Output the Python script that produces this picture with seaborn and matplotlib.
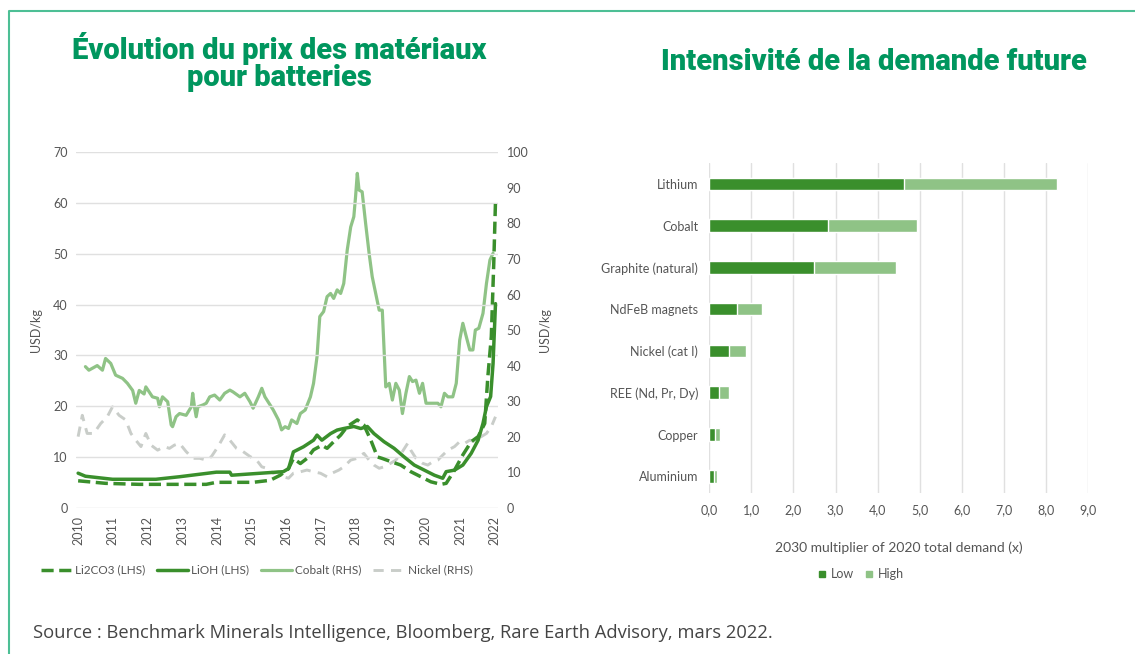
import numpy as np
import pandas as pd
import matplotlib
matplotlib.use("Agg")
import matplotlib.pyplot as plt
from matplotlib.lines import Line2D
import seaborn as sns

# --- left chart: battery material prices ---
li2co3_years = [2010.00, 2010.79, 2011.76, 2013.69, 2013.98, 2015.04, 2015.53, 2015.82, 2016.06,
                2016.20, 2016.40, 2016.59, 2016.78, 2017.02, 2017.17, 2017.36, 2017.56, 2017.75,
                2018.04, 2018.23, 2018.43, 2018.62, 2018.76, 2019.00, 2019.29, 2019.58, 2019.87,
                2020.16, 2020.45, 2020.60, 2020.84, 2021.08, 2021.32, 2021.52, 2021.71, 2021.80,
                2021.90, 2021.97, 2022.02]
li2co3_usd = [5.3, 4.8, 4.6, 4.6, 5, 5, 5.4, 6.4, 7.7, 9.7, 8.7, 9.7, 11.4, 12.3, 11.7, 13, 14.3,
              16, 17.3, 16.3, 13.3, 10, 9.7, 9.1, 8.4, 7.1, 6.1, 5.1, 4.6, 4.8, 7.4, 10.4, 13, 14,
              16.6, 25.8, 33.7, 48.1, 60.3]

lioh_years = [2010.00, 2010.21, 2010.60, 2010.99, 2012.24, 2012.92, 2013.98, 2014.37, 2014.42,
              2015.91, 2016.06, 2016.20, 2016.49, 2016.78, 2016.88, 2017.02, 2017.27, 2017.46,
              2017.65, 2017.94, 2018.14, 2018.33, 2018.52, 2018.81, 2019.10, 2019.39, 2019.68,
              2019.97, 2020.26, 2020.50, 2020.60, 2020.84, 2021.08, 2021.32, 2021.52, 2021.66,
              2021.76, 2021.88, 2021.95, 2022.02]
lioh_usd = [6.8, 6.2, 5.9, 5.6, 5.6, 6.1, 7.0, 7.0, 6.4, 7.1, 7.7, 11, 12, 13.3, 14.3, 13.3, 14.6,
            15.3, 15.6, 16, 15.6, 16, 14.6, 13, 11.7, 10, 8.4, 7.4, 6.4, 5.8, 7.1, 7.4, 8.4, 10.7,
            13.3, 16.6, 19.9, 21.9, 28.4, 40.2]

cobalt_years = [2010.21, 2010.31, 2010.55, 2010.70, 2010.79, 2010.94, 2011.08, 2011.28, 2011.42,
                2011.57, 2011.66, 2011.76, 2011.90, 2011.95, 2012.14, 2012.29, 2012.34, 2012.43,
                2012.58, 2012.68, 2012.72, 2012.82, 2012.92, 2013.11, 2013.26, 2013.30, 2013.35,
                2013.40, 2013.45, 2013.59, 2013.69, 2013.79, 2013.93, 2014.08, 2014.22, 2014.37,
                2014.46, 2014.66, 2014.80, 2014.95, 2015.04, 2015.19, 2015.29, 2015.38, 2015.53,
                2015.62, 2015.77, 2015.86, 2015.96, 2016.06, 2016.15, 2016.30, 2016.40, 2016.54,
                2016.69, 2016.78, 2016.88, 2016.96, 2017.07, 2017.17, 2017.27, 2017.36, 2017.46,
                2017.56, 2017.65, 2017.75, 2017.85, 2017.94, 2017.99, 2018.04, 2018.09, 2018.18,
                2018.28, 2018.38, 2018.47, 2018.57, 2018.67, 2018.76, 2018.86, 2018.96, 2019.05,
                2019.15, 2019.25, 2019.34, 2019.44, 2019.54, 2019.63, 2019.73, 2019.83, 2019.92,
                2020.02, 2020.16, 2020.36, 2020.45, 2020.55, 2020.65, 2020.79, 2020.89, 2020.99,
                2021.08, 2021.18, 2021.28, 2021.37, 2021.44, 2021.54, 2021.66, 2021.76, 2021.86,
                2021.95]
cobalt_usd = [39.7, 38.7, 40, 38.7, 42, 40.6, 37.3, 36.4, 35, 33, 29.4, 33, 32, 34, 31.2, 30.8, 28.4,
              31.2, 29.8, 23.3, 22.8, 25.6, 26.5, 26, 28.4, 32.2, 28.4, 25.6, 28.4, 28.9, 29.4, 31.2,
              31.7, 30.3, 32.2, 33.1, 32.6, 31.2, 32.2, 29.8, 28, 31.2, 33.6, 31.2, 28.9, 27.5, 24.7,
              21.9, 22.8, 22.3, 24.7, 23.7, 26.5, 27.5, 31.2, 35, 42.5, 53.8, 55.2, 59.4, 60.3, 58.9,
              61.3, 60.3, 63.1, 72.5, 79, 81.9, 87.5, 94.1, 89.4, 88.9, 80, 71.6, 65, 60.3, 55.6,
              55.6, 34, 35, 30.3, 35, 33.1, 26.5, 32.2, 36.9, 35.5, 35.9, 32.2, 35, 29.4, 29.4, 29.4,
              28.4, 32.2, 31.2, 31.2, 35, 47.2, 51.9, 48.1, 44.4, 44.4, 50, 50.5, 54.7, 63.1, 69.7,
              71.6]

nickel_years = [2010.00, 2010.12, 2010.26, 2010.45, 2010.65, 2010.84, 2010.99, 2011.18, 2011.37,
                2011.52, 2011.66, 2011.81, 2011.95, 2012.10, 2012.29, 2012.48, 2012.63, 2012.77,
                2012.92, 2013.11, 2013.30, 2013.50, 2013.69, 2013.84, 2014.03, 2014.22, 2014.37,
                2014.56, 2014.75, 2014.95, 2015.14, 2015.29, 2015.43, 2015.62, 2015.77, 2015.91,
                2016.06, 2016.20, 2016.40, 2016.59, 2016.78, 2016.98, 2017.17, 2017.31, 2017.51,
                2017.65, 2017.85, 2018.04, 2018.23, 2018.38, 2018.52, 2018.67, 2018.81, 2019.00,
                2019.15, 2019.34, 2019.49, 2019.58, 2019.73, 2019.92, 2020.07, 2020.21, 2020.36,
                2020.50, 2020.65, 2020.84, 2020.99, 2021.13, 2021.28, 2021.42, 2021.61, 2021.76,
                2021.90, 2022.02]
nickel_usd = [20, 26, 20.9, 20.9, 23.7, 25.6, 28.4, 26, 24.7, 20.9, 19, 17.2, 20.9, 17.6, 16.2, 17.2,
              16.7, 17.6, 18.1, 15.8, 13.9, 13.9, 13.4, 14.4, 17.2, 20.5, 19, 16.7, 15.8, 14.4, 13.4,
              11.5, 11.1, 9.7, 10.1, 8.7, 8.3, 9.7, 10.1, 10.6, 10.1, 9.7, 8.7, 9.7, 10.6, 11.5, 13.4,
              13.9, 15.3, 13.4, 12, 11.1, 11.5, 12.5, 13.4, 15.8, 18.1, 16.2, 13.9, 12.5, 12, 12.9,
              13.4, 14.8, 16.2, 17.2, 18.6, 18.1, 19, 18.6, 20, 20.9, 22.8, 25.6]

year_ticks = list(range(2010, 2023))

# --- right chart: 2030 demand multiplier ---
materials = ["Lithium", "Cobalt", "Graphite (natural)", "NdFeB magnets", "Nickel (cat I)",
             "REE (Nd, Pr, Dy)", "Copper", "Aluminium"]
demand_low = [4.64, 2.83, 2.5, 0.65, 0.47, 0.24, 0.13, 0.1]
demand_high = [8.26, 4.93, 4.44, 1.26, 0.86, 0.47, 0.25, 0.19]

GREEN_TITLE = "#00965e"
FRAME = "#4dbf95"
DARK = "#3a8f2c"
LIGHT = "#8fc386"
NICKEL = "#c9cdc9"
TXT = "#555555"

sns.set_theme(style="white")
plt.rcParams["font.family"] = ["Lato", "DejaVu Sans"]

fig = plt.figure(figsize=(11.35, 6.54), dpi=100)

# left chart
ax = fig.add_axes([0.067, 0.2237, 0.372, 0.5433])
ax2 = ax.twinx()

sns.lineplot(x=li2co3_years, y=li2co3_usd, ax=ax, color=DARK, lw=2.5, sort=False,
             linestyle=(0, (3.5, 1.6)))
sns.lineplot(x=lioh_years, y=lioh_usd, ax=ax, color=DARK, lw=2.5, sort=False)
sns.lineplot(x=cobalt_years, y=cobalt_usd, ax=ax2, color=LIGHT, lw=2.3, sort=False)
sns.lineplot(x=nickel_years, y=nickel_usd, ax=ax2, color=NICKEL, lw=2.1, sort=False,
             linestyle=(0, (3.5, 2.5)))
ax.set_zorder(ax2.get_zorder() + 1)
ax.patch.set_visible(False)

ax.set_xlim(2009.94, 2022.1)
ax.set_ylim(0, 70)
ax2.set_ylim(0, 100)
ax.set_yticks(range(0, 71, 10))
ax2.set_yticks(range(0, 101, 10))
ax.set_xticks(year_ticks)
ax.set_xticklabels([str(y) for y in year_ticks], rotation=90)
ax.grid(axis="y", color="#e0e0e0", lw=1)
ax.grid(axis="x", visible=False)
ax2.grid(False)
for a in (ax, ax2):
    for s in a.spines.values():
        s.set_visible(False)
    a.tick_params(length=0, labelsize=9, colors=TXT, pad=6)
ax.set_ylabel("USD/kg", fontsize=9, color=TXT, labelpad=8)
ax2.set_ylabel("USD/kg", fontsize=9, color=TXT, labelpad=8)
ax.set_xlabel("")

left_handles = [
    Line2D([], [], color=DARK, lw=2.5, linestyle=(0, (3.5, 1.6))),
    Line2D([], [], color=DARK, lw=2.5),
    Line2D([], [], color=LIGHT, lw=2.3),
    Line2D([], [], color=NICKEL, lw=2.1, linestyle=(0, (3.5, 2.5))),
]
fig.legend(left_handles, ["Li2CO3 (LHS)", "LiOH (LHS)", "Cobalt (RHS)", "Nickel (RHS)"],
           loc="center", bbox_to_anchor=(0.226, 0.128), ncol=4, frameon=False,
           fontsize=8.5, labelcolor=TXT, handlelength=2.6, handletextpad=0.3, columnspacing=1.0)

# right chart
bx = fig.add_axes([0.625, 0.2462, 0.3334, 0.5046])
sns.barplot(x=demand_high, y=materials, ax=bx, color=LIGHT, width=0.3, saturation=1,
            orient="h", label="High")
sns.barplot(x=demand_low, y=materials, ax=bx, color=DARK, width=0.3, saturation=1,
            orient="h", label="Low")
bx.set_xlim(0, 9)
bx.set_ylim(7.4, -0.5)
bx.set_xticks(np.arange(0, 9.1, 1))
bx.set_xticklabels([f"{v:.1f}".replace(".", ",") for v in np.arange(0, 9.1, 1)])
bx.grid(axis="x", color="#e0e0e0", lw=1)
bx.grid(axis="y", visible=False)
bx.set_axisbelow(True)
for s in bx.spines.values():
    s.set_visible(False)
bx.tick_params(length=0, labelsize=9, colors=TXT, pad=8)
bx.set_ylabel("")
bx.set_xlabel("2030 multiplier of 2020 total demand (x)", fontsize=10, color=TXT, labelpad=18)
if bx.get_legend():
    bx.get_legend().remove()
right_handles = [
    Line2D([], [], marker="s", color=DARK, lw=0, markersize=4),
    Line2D([], [], marker="s", color=LIGHT, lw=0, markersize=4),
]
fig.legend(right_handles, ["Low", "High"], loc="center", bbox_to_anchor=(0.758, 0.122), ncol=2,
           frameon=False, fontsize=9, labelcolor=TXT, handlelength=0.8, handletextpad=0.3,
           columnspacing=0.8)

# titles
title_font = dict(fontsize=21, fontweight=900, color=GREEN_TITLE, family=["Roboto", "DejaVu Sans"])
fig.text(0.246, 0.905, "Évolution du prix des matériaux\npour batteries", ha="center", va="center",
         linespacing=0.95, **title_font)
fig.text(0.77, 0.905, "Intensivité de la demande future", ha="center", va="center", **title_font)

fig.text(0.029, 0.032, "Source : Benchmark Minerals Intelligence, Bloomberg, Rare Earth Advisory, mars 2022.",
         ha="left", va="center", fontsize=13.2, color="#444444", family=["Open Sans", "DejaVu Sans"])

# green frame
fy = 1 - 11 / 654
fx = 9 / 1135
fig.add_artist(Line2D([fx, fx, 1], [0, fy, fy], color=FRAME, lw=1.5, transform=fig.transFigure))

fig.savefig("out.png", dpi=100)
